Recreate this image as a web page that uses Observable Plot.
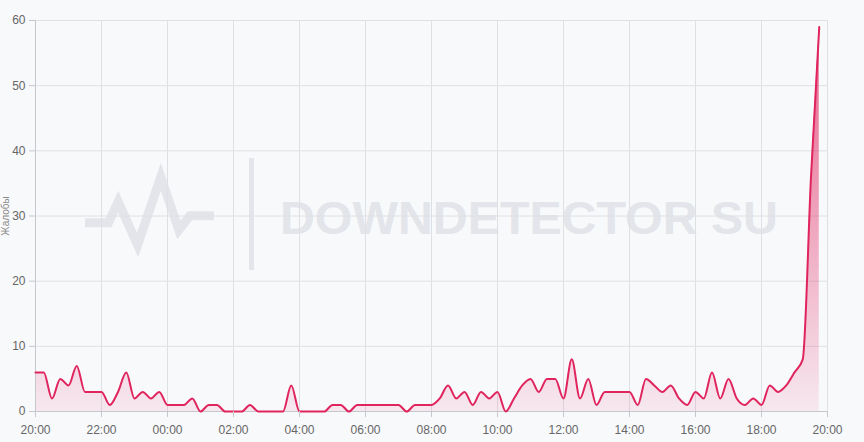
<!DOCTYPE html>
<html>
<head>
<meta charset="utf-8">
<script src="https://cdn.jsdelivr.net/npm/d3@7"></script>
<script src="https://cdn.jsdelivr.net/npm/@observablehq/plot@0.6"></script>
<style>
  html, body { margin: 0; padding: 0; background: #f8f9fb; }
  #chart { width: 864px; height: 442px; overflow: hidden; }
</style>
</head>
<body>
<div id="chart"></div>
<script>
// ---- Data (15-minute report counts, starting 20:00) ----
const startTime = new Date(2024, 0, 1, 20, 0);
const endTime = new Date(2024, 0, 2, 20, 0);
const stepMinutes = 15;
const reports = [
  6, 6, 2, 5, 4, 7, 3, 3, 3, 1,
  3, 6, 2, 3, 2, 3, 1, 1, 1, 2,
  0, 1, 1, 0, 0, 0, 1, 0, 0, 0,
  0, 4, 0, 0, 0, 0, 1, 1, 0, 1,
  1, 1, 1, 1, 1, 0, 1, 1, 1, 2,
  4, 2, 3, 1, 3, 2, 3, 0, 2, 4,
  5, 3, 5, 5, 2, 8, 2, 5, 1, 3,
  3, 3, 3, 1, 5, 4, 3, 4, 2, 1,
  3, 2, 6, 2, 5, 2, 1, 2, 1, 4,
  3, 4, 6, 8, 36, 59
];
const yTicks = [0, 10, 20, 30, 40, 50, 60];
const xTickLabels = ["20:00", "22:00", "00:00", "02:00", "04:00", "06:00", "08:00", "10:00", "12:00", "14:00", "16:00", "18:00", "20:00"];
const yLabel = "Жалобы";
const watermarkText = "DOWNDETECTOR SU";

const data = reports.map((v, i) => ({ time: d3.timeMinute.offset(startTime, i * stepMinutes), value: v }));
const xTicks = xTickLabels.map((_, i) => d3.timeHour.offset(startTime, i * 2));
const labelFor = new Map(xTicks.map((t, i) => [+t, xTickLabels[i]]));

const gridColor = "#dfe0e4";
const axisColor = "#c6c7cc";
const lineColor = "#e0245e";

const chart = Plot.plot({
  width: 864,
  height: 442,
  marginLeft: 35,
  marginRight: 37,
  marginTop: 20,
  marginBottom: 31,
  style: { background: "#f8f9fb", fontFamily: "'Liberation Sans', Arial, sans-serif", fontSize: "12px", color: "#666" },
  x: { type: "time", domain: [startTime, endTime] },
  y: { domain: [0, 60] },
  marks: [
    Plot.gridX(xTicks, { stroke: gridColor, strokeOpacity: 1 }),
    Plot.gridY(yTicks, { stroke: gridColor, strokeOpacity: 1 }),
    Plot.areaY(data, { x: "time", y: "value", curve: "monotone-x", fill: "url(#reportsGradient)" }),
    Plot.ruleX([startTime], { stroke: axisColor }),
    Plot.ruleY([0], { stroke: axisColor }),
    Plot.lineY(data, { x: "time", y: "value", curve: "monotone-x", stroke: lineColor, strokeWidth: 2 }),
    Plot.axisX(xTicks, { tickFormat: d => labelFor.get(+d), tickSize: 6, tickPadding: 8, stroke: axisColor, fill: "#666", label: null }),
    Plot.axisY(yTicks, { tickSize: 6, tickPadding: 4, stroke: axisColor, fill: "#666", label: null }),
    Plot.text([yLabel], { frameAnchor: "left", dx: -27, rotate: -90, textAnchor: "middle", lineAnchor: "bottom", fill: "#888", fontSize: 10 })
  ]
});

// gradient for the area fill
const ns = "http://www.w3.org/2000/svg";
const defs = document.createElementNS(ns, "defs");
defs.innerHTML = `
  <linearGradient id="reportsGradient" x1="0" y1="0" x2="0" y2="1">
    <stop offset="0" stop-color="${lineColor}" stop-opacity="0.72"/>
    <stop offset="1" stop-color="${lineColor}" stop-opacity="0.08"/>
  </linearGradient>`;
chart.insertBefore(defs, chart.firstChild);

// watermark behind the grid
const wm = document.createElementNS(ns, "g");
wm.setAttribute("fill", "#e3e5ea");
wm.innerHTML = `
  <path d="M85,222.7 L108.5,222.7 L118.2,201.7 L137.6,245 L160.8,176.7 L178.8,230 L190,215.7 L214,215.7"
        fill="none" stroke="#e3e5ea" stroke-width="9" stroke-linejoin="miter" stroke-miterlimit="6"/>
  <rect x="249" y="158" width="5" height="112"/>
  <text x="280" y="234" text-anchor="start" font-family="'Liberation Sans', Arial, sans-serif" font-weight="bold" font-size="47"
        textLength="498" lengthAdjust="spacingAndGlyphs">${watermarkText}</text>`;
const firstG = chart.querySelector("g");
chart.insertBefore(wm, firstG);

document.getElementById("chart").appendChild(chart);
</script>
</body>
</html>
